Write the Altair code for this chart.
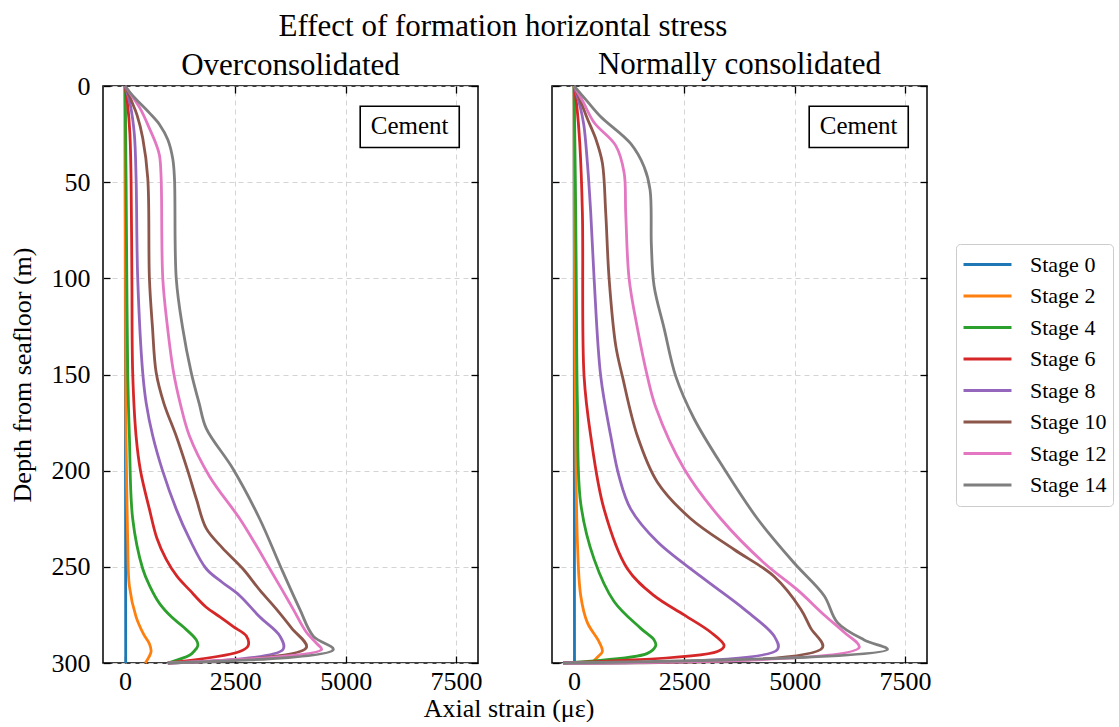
import altair as alt
import pandas as pd

FONT = "Liberation Serif"

stages = ["Stage 0", "Stage 2", "Stage 4", "Stage 6", "Stage 8", "Stage 10", "Stage 12", "Stage 14"]
colors = ["#1f77b4", "#ff7f0e", "#2ca02c", "#d62728", "#9467bd", "#8c564b", "#e377c2", "#7f7f7f"]

x_ticks = [0, 2500, 5000, 7500]
y_ticks = [0, 50, 100, 150, 200, 250, 300]
x_domain = [-500, 8000]
y_domain = [0, 300]

# ---------------- Overconsolidated (depth m, axial strain micro-strain) ----------------
oc_s0_depth = [0, 150, 300]
oc_s0_strain = [0, 8, 15]
oc_s2_depth = [0, 50, 100, 150, 182, 237, 260, 276, 285, 290, 294, 297, 300]
oc_s2_strain = [0, 5, 10, 15, 23, 60, 98, 250, 420, 552, 590, 540, 460]
oc_s4_depth = [0, 20, 48, 100, 149, 182, 225, 251, 260, 269, 276, 281, 288, 291, 294, 296, 300]
oc_s4_strain = [0, 10, 23, 40, 60, 98, 173, 400, 560, 780, 1050, 1310, 1615, 1650, 1560, 1460, 970]
oc_s6_depth = [0, 10, 25, 48, 100, 149, 182, 200, 220, 235, 246, 255, 262, 271, 276, 281, 286, 291, 294, 300]
oc_s6_strain = [0, 60, 110, 136, 155, 173, 250, 350, 552, 720, 930, 1180, 1460, 1840, 2150, 2445, 2750, 2790, 2600, 970]
oc_s8_depth = [0, 10, 25, 48, 100, 149, 165, 182, 200, 220, 235, 251, 258, 265, 276, 286, 293, 300]
oc_s8_strain = [0, 120, 210, 250, 287, 400, 480, 628, 850, 1160, 1450, 1840, 2200, 2600, 3050, 3510, 3580, 970]
oc_s10_depth = [0, 8, 15, 27, 48, 100, 125, 149, 165, 182, 200, 215, 230, 240, 251, 262, 272, 282, 292, 300]
oc_s10_strain = [0, 150, 270, 400, 515, 552, 620, 705, 880, 1160, 1420, 1620, 1840, 2200, 2670, 3050, 3430, 3780, 4110, 970]
oc_s12_depth = [0, 5, 12, 22, 30, 36, 48, 100, 125, 149, 165, 182, 203, 225, 238, 251, 262, 272, 284, 290, 293, 300]
oc_s12_strain = [0, 150, 350, 552, 700, 780, 818, 855, 960, 1100, 1250, 1460, 1915, 2600, 2950, 3280, 3560, 3810, 4110, 4350, 4455, 970]
oc_s14_depth = [0, 5, 14, 20, 28, 38, 48, 100, 125, 149, 165, 178, 199, 225, 251, 272, 286, 293, 300]
oc_s14_strain = [0, 173, 552, 780, 970, 1082, 1120, 1160, 1300, 1500, 1680, 1840, 2445, 3050, 3545, 3960, 4265, 4720, 970]

# ---------------- Normally consolidated ----------------
nc_s0_depth = [0, 150, 300]
nc_s0_strain = [0, 5, 10]
nc_s2_depth = [0, 100, 165, 237, 265, 279, 289, 294, 297, 300]
nc_s2_strain = [0, 10, 30, 76, 151, 302, 567, 642, 529, 400]
nc_s4_depth = [0, 50, 100, 165, 217, 246, 268, 282, 288, 291, 295, 300]
nc_s4_strain = [0, 30, 50, 76, 151, 454, 907, 1512, 1814, 1852, 1662, -250]
nc_s6_depth = [0, 10, 30, 66, 151, 182, 220, 251, 265, 275, 284, 291, 294, 300]
nc_s6_strain = [0, 60, 130, 189, 227, 378, 680, 1209, 1814, 2494, 3099, 3401, 3250, -250]
nc_s8_depth = [0, 10, 20, 40, 66, 100, 151, 182, 203, 220, 237, 255, 272, 286, 293, 300]
nc_s8_strain = [0, 130, 220, 302, 378, 454, 605, 832, 1020, 1285, 1889, 2872, 3855, 4535, 4610, -250]
nc_s10_depth = [0, 8, 17, 28, 40, 66, 100, 135, 151, 182, 206, 225, 241, 255, 272, 282, 292, 300]
nc_s10_strain = [0, 150, 302, 500, 642, 718, 794, 945, 1096, 1436, 1889, 2645, 3628, 4535, 5140, 5367, 5631, -250]
nc_s12_depth = [0, 8, 19, 31, 45, 66, 100, 126, 151, 167, 199, 225, 248, 262, 275, 284, 292, 300]
nc_s12_strain = [0, 200, 454, 945, 1134, 1171, 1247, 1436, 1662, 1852, 2494, 3326, 4308, 5064, 5669, 6122, 6463, -250]
nc_s14_depth = [0, 8, 16, 30, 42, 54, 83, 104, 126, 151, 173, 199, 225, 248, 265, 279, 288, 293, 300]
nc_s14_strain = [0, 300, 605, 1285, 1587, 1723, 1753, 1814, 2041, 2306, 2721, 3401, 4157, 4989, 5669, 5971, 6576, 7104, -250]

# Annotation box ("Cement") in data coordinates
ann_label = ["Cement"]
ann_x = [6450]
ann_y = [21]
ann_x0 = [5330]
ann_x1 = [7575]
ann_y0 = [10.5]
ann_y1 = [32]

oc_series = [(oc_s0_depth, oc_s0_strain), (oc_s2_depth, oc_s2_strain), (oc_s4_depth, oc_s4_strain),
             (oc_s6_depth, oc_s6_strain), (oc_s8_depth, oc_s8_strain), (oc_s10_depth, oc_s10_strain),
             (oc_s12_depth, oc_s12_strain), (oc_s14_depth, oc_s14_strain)]
nc_series = [(nc_s0_depth, nc_s0_strain), (nc_s2_depth, nc_s2_strain), (nc_s4_depth, nc_s4_strain),
             (nc_s6_depth, nc_s6_strain), (nc_s8_depth, nc_s8_strain), (nc_s10_depth, nc_s10_strain),
             (nc_s12_depth, nc_s12_strain), (nc_s14_depth, nc_s14_strain)]


def build_df(series):
    rows = []
    for stage, (dep, stn) in zip(stages, series):
        for i, (d, s) in enumerate(zip(dep, stn)):
            rows.append({"stage": stage, "depth": d, "strain": s, "idx": i})
    return pd.DataFrame(rows)


ann_df = pd.DataFrame({"label": ann_label, "x": ann_x, "y": ann_y,
                       "x0": ann_x0, "x1": ann_x1, "y0": ann_y0, "y1": ann_y1})

xscale = alt.Scale(domain=x_domain, nice=False, zero=False)
yscale = alt.Scale(domain=y_domain, reverse=True, nice=False, zero=False)

TICK = 7
GRID = dict(grid=True, gridDash=[5, 4], gridColor="#d4d4d4", gridWidth=1)

legend = alt.Legend(
    title=None, orient="none", legendX=853, legendY=158,
    symbolType="stroke", symbolSize=2300, symbolStrokeWidth=2.8,
    labelFont=FONT, labelFontSize=22, labelColor="black",
    clipHeight=29, rowPadding=2.5, labelOffset=17,
    strokeColor="#cccccc", fillColor="white", cornerRadius=4, padding=6,
)


def panel(df, title, first):
    base = alt.Chart(df)
    x_bottom = alt.Axis(orient="bottom", values=x_ticks, format="d", offset=-TICK, tickSize=TICK,
                        domain=False, tickColor="black", tickWidth=1.3, labelFont=FONT,
                        labelFontSize=26, labelColor="black", labelPadding=5, labelFlush=False,
                        title=None, **GRID)
    y_left = alt.Axis(orient="left", values=y_ticks, offset=-TICK, tickSize=TICK, domain=False,
                      tickColor="black", tickWidth=1.3, labelFont=FONT, labelFontSize=26,
                      labelColor="black", labelPadding=13, labels=first,
                      title="Depth from seafloor (m)" if first else None,
                      titleFont=FONT, titleFontSize=26, titleFontWeight="normal",
                      titleColor="black", titlePadding=16, **GRID)
    x_top = alt.Axis(orient="top", values=x_ticks, offset=-TICK, tickSize=TICK, domain=False,
                     labels=False, grid=False, tickColor="black", tickWidth=1.3, title=None)
    y_right = alt.Axis(orient="right", values=y_ticks, offset=-TICK, tickSize=TICK, domain=False,
                       labels=False, grid=False, tickColor="black", tickWidth=1.3, title=None)
    color = alt.Color("stage:N", scale=alt.Scale(domain=stages, range=colors), legend=legend)

    lines = base.mark_line(strokeWidth=2.8, interpolate="catmull-rom").encode(
        x=alt.X("strain:Q", scale=xscale, axis=x_bottom),
        y=alt.Y("depth:Q", scale=yscale, axis=y_left),
        color=color,
        order=alt.Order("idx:Q"),
    )
    mirror = base.mark_line(strokeWidth=0, opacity=0).encode(
        x=alt.X("strain:Q", scale=xscale, axis=x_top),
        y=alt.Y("depth:Q", scale=yscale, axis=y_right),
        detail="stage:N",
        order=alt.Order("idx:Q"),
    )
    box = alt.Chart(ann_df).mark_rect(fill="white", stroke="black", strokeWidth=1.6).encode(
        x=alt.X("x0:Q", scale=xscale, axis=None), x2="x1:Q",
        y=alt.Y("y0:Q", scale=yscale, axis=None), y2="y1:Q",
    )
    txt = alt.Chart(ann_df).mark_text(font=FONT, fontSize=25, color="black",
                                      align="center", baseline="middle").encode(
        x=alt.X("x:Q", scale=xscale, axis=None),
        y=alt.Y("y:Q", scale=yscale, axis=None),
        text="label:N",
    )
    return alt.layer(lines, mirror, box, txt).resolve_axis(x="independent", y="independent").properties(
        width=375, height=577,
        title=alt.TitleParams(title, font=FONT, fontSize=31, fontWeight="normal", color="black",
                              offset=-9, dy=0 if first else -8),
    )


left = panel(build_df(oc_series), "Overconsolidated", True)
right = panel(build_df(nc_series), "Normally consolidated", False)

inner = alt.hconcat(left, right, spacing=67).properties(
    title=alt.TitleParams("Axial strain (με)", orient="bottom", anchor="middle", font=FONT,
                          fontSize=26, fontWeight="normal", color="black", offset=1, dx=39)
)

chart = alt.vconcat(inner).properties(
    title=alt.TitleParams("Effect of formation horizontal stress", anchor="middle", font=FONT,
                          fontSize=31, fontWeight="normal", color="black", offset=6, dx=-58),
    padding={"left": 8, "top": 10, "right": 4, "bottom": 0},
).configure_view(stroke="black", strokeWidth=1.5).configure_concat(spacing=0)

chart.save("out.html", embed_options={"renderer": "svg", "actions": False})
